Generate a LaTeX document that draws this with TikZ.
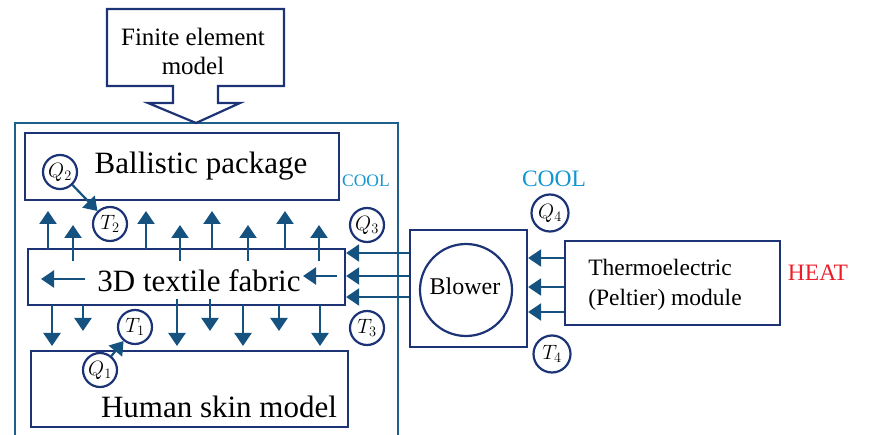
\documentclass[tikz,border=0pt]{standalone}
\usepackage{fontspec}
\setmainfont{Liberation Serif}
\usetikzlibrary{arrows.meta}
\definecolor{navy}{RGB}{28,52,118}
\definecolor{arrblue}{RGB}{22,82,128}
\definecolor{outerblue}{RGB}{30,95,140}
\definecolor{coolblue}{RGB}{20,150,210}
\definecolor{heatred}{RGB}{235,30,40}
\tikzset{
  boxnode/.style={draw=navy,line width=2.2pt,inner sep=0pt},
  circ/.style={draw=navy,line width=2.2pt,circle,inner sep=0pt,minimum size=34pt,font=\fontsize{20}{22}\selectfont},
  arr/.style={draw=arrblue,line width=2.2pt,-{Triangle[width=17pt,length=13pt]}},
  bigtxt/.style={font=\fontsize{31}{36}\selectfont,inner sep=0pt},
  midtxt/.style={font=\fontsize{24}{29}\selectfont,inner sep=0pt},
}
\begin{document}
\begin{tikzpicture}[x=1pt,y=-1pt]
\useasboundingbox (0,0) rectangle (886,435);
\clip (0,0) rectangle (886,435);
% outer box
\draw[draw=outerblue,line width=2pt] (15,123) rectangle (398,450);
% finite element callout
\draw[draw=navy,line width=2.2pt,line join=miter]
  (107,9) -- (284,9) -- (284,86) -- (218,86) -- (218,103) -- (240,103)
  -- (196,123) -- (148,103) -- (173,103) -- (173,86) -- (107,86) -- cycle;
\node[font=\fontsize{25}{29}\selectfont,align=center,inner sep=0pt] (fem) at (193,51) {Finite element\\model};
% boxes
\node[boxnode,minimum width=314pt,minimum height=67pt] (ballistic) at (182,166.5) {};
\node[bigtxt] (ballistictxt) at (201,166) {Ballistic package};
\node[boxnode,minimum width=317pt,minimum height=56pt] (fabric) at (186.5,277) {};
\node[bigtxt] (fabrictxt) at (199,281) {3D textile fabric};
\node[boxnode,minimum width=317pt,minimum height=76pt] (skin) at (189.5,389) {};
\node[bigtxt] (skintxt) at (219,407) {Human skin model};
\node[boxnode,minimum width=117pt,minimum height=117pt] (blower) at (468.5,288.5) {};
\node[draw=navy,line width=2.2pt,circle,minimum size=92pt,inner sep=0pt] (fan) at (466,290) {};
\node[midtxt] (blowertxt) at (465,286) {Blower};
\node[boxnode,minimum width=215pt,minimum height=84pt] (thermo) at (672.5,283) {};
\node[font=\fontsize{23.5}{30}\selectfont,align=left,inner sep=0pt] (thermotxt) at (665,285) {Thermoelectric\\(Peltier) module};
% circles
\node[circ] (q2) at (60,172) {$Q_2$};
\node[circ] (t2) at (110,224) {$T_2$};
\node[circ] (q3) at (367,225) {$Q_3$};
\node[circ] (t3) at (367,328) {$T_3$};
\node[circ] (t1) at (135,327) {$T_1$};
\node[circ] (q1) at (100,370) {$Q_1$};
\node[circ,minimum size=37pt] (q4) at (550,213) {$Q_4$};
\node[circ,minimum size=37pt] (t4) at (552,354) {$T_4$};
\draw[arr] (q2) -- (t2);
\draw[arr] (q1) -- (t1);
% labels
\node[text=coolblue,font=\fontsize{17.5}{20}\selectfont,inner sep=0pt] (cool1) at (366,181) {COOL};
\node[text=coolblue,font=\fontsize{23.5}{26}\selectfont,inner sep=0pt] (cool2) at (554,179) {COOL};
\node[text=heatred,font=\fontsize{23.5}{26}\selectfont,inner sep=0pt] (heat) at (818,273) {HEAT};
% up arrows from fabric
\foreach \x in {48,146,212,285} \draw[arr] (\x,249) -- (\x,211);
\foreach \x in {73,180,248,319} \draw[arr] (\x,261) -- (\x,225);
% down arrows
\foreach \x in {52,243,320} \draw[arr] (\x,305) -- (\x,346);
\foreach \x in {177} \draw[arr] (\x,299) -- (\x,346);
\foreach \x in {83,279} \draw[arr] (\x,305) -- (\x,331);
\foreach \x in {210} \draw[arr] (\x,299) -- (\x,331);
% in-fabric arrows
\draw[arr] (85,279) -- (41,279);
\draw[arr] (337,276) -- (303,276);
% blower to fabric
\foreach \y in {253,276,297} \draw[arr] (blower.west |- 0,\y) -- (fabric.east |- 0,\y);
% thermo to blower
\foreach \y in {258,287,312} \draw[arr] (thermo.west |- 0,\y) -- (blower.east |- 0,\y);
\end{tikzpicture}
\end{document}
